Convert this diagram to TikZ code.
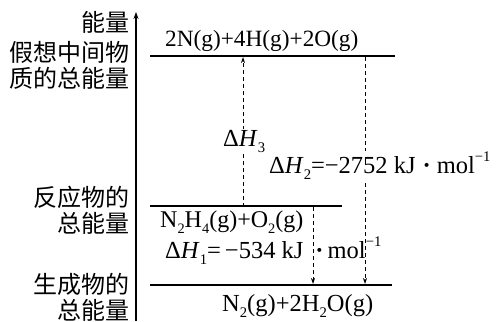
\documentclass[tikz,border=0pt]{standalone}
\usepackage{fontspec}
\setmainfont{Liberation Serif}
\newfontfamily\cjk{Noto Sans CJK SC}
\usetikzlibrary{arrows.meta}
\newcommand\lsub[1]{\raisebox{-0.25em}{\fontsize{0.6em}{0.6em}\selectfont #1}}
\newcommand\lsup[1]{\raisebox{0.48em}{\fontsize{0.6em}{0.6em}\selectfont #1}}
\begin{document}
\begin{tikzpicture}[x=1pt,y=-1pt,
  lvl/.style={line width=1.8pt},
  dsh/.style={line width=0.9pt, dash pattern=on 4pt off 3pt, -{Stealth[length=6pt,width=4pt]}},
  lbl/.style={inner sep=0, anchor=base west},
  cn/.style={font=\cjk\fontsize{24}{28}\selectfont, inner sep=0, anchor=east}]
\useasboundingbox (0,0) rectangle (497,321);
% axis
\coordinate (ab) at (136,321);
\coordinate (at) at (136,12);
\draw[line width=1.8pt, -{Stealth[length=7pt,width=5pt]}] (ab) -- (at);
% levels
\coordinate (t1) at (150,56);  \coordinate (t2) at (395,56);
\coordinate (r1) at (150,206); \coordinate (r2) at (342,206);
\coordinate (p1) at (150,285); \coordinate (p2) at (392,285);
\draw[lvl] (t1) -- (t2);
\draw[lvl] (r1) -- (r2);
\draw[lvl] (p1) -- (p2);
% dashed arrows
\coordinate (h3a) at (243,207); \coordinate (h3b) at (243,57);
\coordinate (h2a) at (365,57);  \coordinate (h2b) at (365,284);
\coordinate (h1a) at (313,207); \coordinate (h1b) at (313,284);
\draw[dsh] (h3a) -- (h3b);
\draw[dsh] (h2a) -- (h2b);
\draw[dsh] (h1a) -- (h1b);
% labels
\node[lbl, font=\fontsize{23.3}{24}\selectfont] (top) at (165,47) {2N(g)+4H(g)+2O(g)};
\node[lbl, font=\fontsize{24}{24}\selectfont] (rea) at (160,227) {N\lsub{2}H\lsub{4}(g)+O\lsub{2}(g)};
\node[lbl, font=\fontsize{24.5}{24}\selectfont] (pro) at (222,311) {N\lsub{2}(g)+2H\lsub{2}O(g)};
\node[lbl, font=\fontsize{24.5}{25}\selectfont, fill=white, inner sep=1pt] (dh3) at (222,146) {Δ\textit{H}\lsub{3}};
\node[lbl, font=\fontsize{24.5}{25}\selectfont, fill=white, inner sep=1pt] (dh2) at (268,173) {Δ\textit{H}\lsub{2}=−2752 kJ\hspace{7pt}\textbf{·}\hspace{6pt}mol\lsup{−1}};
\node[lbl, font=\fontsize{24.5}{25}\selectfont] (dh1) at (165,258) {Δ\textit{H}\lsub{1}=\,−534 kJ\hspace{12pt}\textbf{·}\hspace{4pt}mol\lsup{−1}};
% chinese labels
\node[cn] (c1) at (130,22) {能量};
\node[cn] (c2) at (130,52) {假想中间物};
\node[cn] (c3) at (130,78) {质的总能量};
\node[cn] (c4) at (130,197) {反应物的};
\node[cn] (c5) at (130,223) {总能量};
\node[cn] (c6) at (130,284) {生成物的};
\node[cn] (c7) at (130,310) {总能量};
\end{tikzpicture}
\end{document}
